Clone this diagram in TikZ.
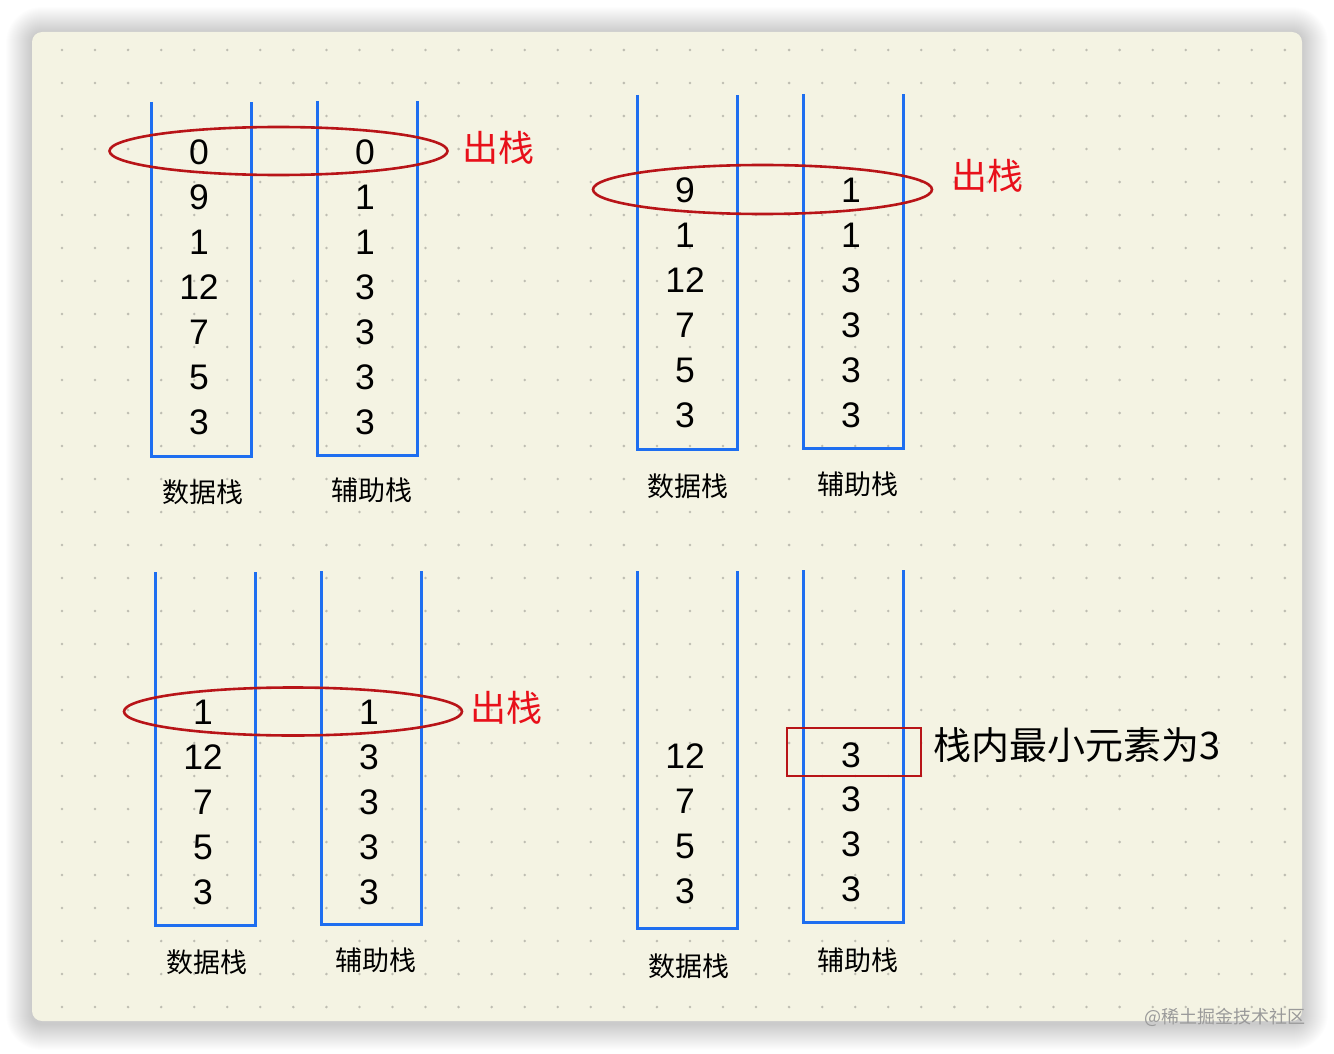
\documentclass[tikz,border=0pt]{standalone}
\usepackage{fontspec}
\setmainfont{Liberation Sans}
\newfontfamily\cjk{Noto Sans CJK SC}
\definecolor{stackblue}{HTML}{1E6EF0}
\definecolor{ringred}{HTML}{B81418}
\definecolor{textred}{HTML}{E8101A}
\definecolor{cardbg}{HTML}{F4F3E3}
\definecolor{dotc}{HTML}{BEBDB2}
\definecolor{wmark}{HTML}{9A9A9A}
\tikzset{
  stk/.style={draw=stackblue, line width=3pt, line join=miter},
  num/.style={font=\fontsize{35.5}{35.5}\selectfont, inner sep=0pt},
  lbl/.style={font=\cjk\fontsize{27}{27}\selectfont, inner sep=0pt},
  pop/.style={font=\cjk\fontsize{36}{36}\selectfont, text=textred, inner sep=0pt},
  note/.style={font=\cjk\fontsize{38}{38}\selectfont, inner sep=0pt, anchor=west},
  ring/.style={draw=ringred, line width=2.6pt},
}
\begin{document}
\begin{tikzpicture}[x=1pt,y=-1pt]
\useasboundingbox (0,0) rectangle (1334,1054);
\fill[white] (0,0) rectangle (1334,1054);
% shadow
\foreach \s in {1,...,26}{
  \fill[black, fill opacity=0.006, rounded corners={10pt+\s pt}] ({32-\s},{33-\s}) rectangle ({1302+\s},{1024+\s});
}
% card
\fill[cardbg, rounded corners=10pt] (32,32) rectangle (1302,1021);
% dot grid
\foreach \i in {0,...,37}{
  \foreach \j in {0,...,29}{
    \fill[dotc] ({62+33.05*\i},{50+33*\j}) circle (1.4pt);
  }
}
% ---------- top-left ----------
\draw[stk] (151,102) -- (151,456) -- (251,456) -- (251,102);
\draw[stk] (317,101) -- (317,455) -- (417,455) -- (417,101);
\foreach \v [count=\k] in {0,9,1,12,7,5,3}
  \node[num] (tld\k) at (199,{152+45*(\k-1)}) {\v};
\foreach \v [count=\k] in {0,1,1,3,3,3,3}
  \node[num] (tla\k) at (365,{152+45*(\k-1)}) {\v};
\draw[ring] (278.5,151) ellipse [x radius=169pt, y radius=24pt];
\node[pop] (tlpop) at (498.5,148) {出栈};
\node[lbl] (tldl) at (203,492) {数据栈};
\node[lbl] (tlal) at (372,490) {辅助栈};
% ---------- top-right ----------
\draw[stk] (637,95) -- (637,449) -- (737,449) -- (737,95);
\draw[stk] (803,94) -- (803,448) -- (903,448) -- (903,94);
\foreach \v [count=\k] in {9,1,12,7,5,3}
  \node[num] (trd\k) at (685,{190+45*(\k-1)}) {\v};
\foreach \v [count=\k] in {1,1,3,3,3,3}
  \node[num] (tra\k) at (851,{190+45*(\k-1)}) {\v};
\draw[ring] (762.5,189.5) ellipse [x radius=169.5pt, y radius=24.5pt];
\node[pop] (trpop) at (987,176) {出栈};
\node[lbl] (trdl) at (688,486) {数据栈};
\node[lbl] (tral) at (857.5,484) {辅助栈};
% ---------- bottom-left ----------
\draw[stk] (155,572) -- (155,925) -- (255,925) -- (255,572);
\draw[stk] (321,571) -- (321,924) -- (421,924) -- (421,571);
\foreach \v [count=\k] in {1,12,7,5,3}
  \node[num] (bld\k) at (203,{712+45*(\k-1)}) {\v};
\foreach \v [count=\k] in {1,3,3,3,3}
  \node[num] (bla\k) at (369,{712+45*(\k-1)}) {\v};
\draw[ring] (293,711.5) ellipse [x radius=169pt, y radius=24pt];
\node[pop] (blpop) at (506,708) {出栈};
\node[lbl] (bldl) at (207,962) {数据栈};
\node[lbl] (blal) at (376,960) {辅助栈};
% ---------- bottom-right ----------
\draw[stk] (637,571) -- (637,928) -- (737,928) -- (737,571);
\draw[stk] (803,570) -- (803,922) -- (903,922) -- (903,570);
\foreach \v [count=\k] in {12,7,5,3}
  \node[num] (brd\k) at (685,{756+45*(\k-1)}) {\v};
\foreach \v [count=\k] in {3,3,3,3}
  \node[num] (bra\k) at (851,{755+44.7*(\k-1)}) {\v};
\draw[ring, line width=2.4pt] (787,728) rectangle (921,776);
\node[note] (brnote) at (933,745) {栈内最小元素为3};
\node[lbl] (brdl) at (689,966) {数据栈};
\node[lbl] (bral) at (857.5,960) {辅助栈};
% watermark
\node[font=\cjk\fontsize{18}{18}\selectfont, text=wmark, anchor=east, inner sep=0pt] (wm) at (1306,1017) {@稀土掘金技术社区};
\end{tikzpicture}
\end{document}
